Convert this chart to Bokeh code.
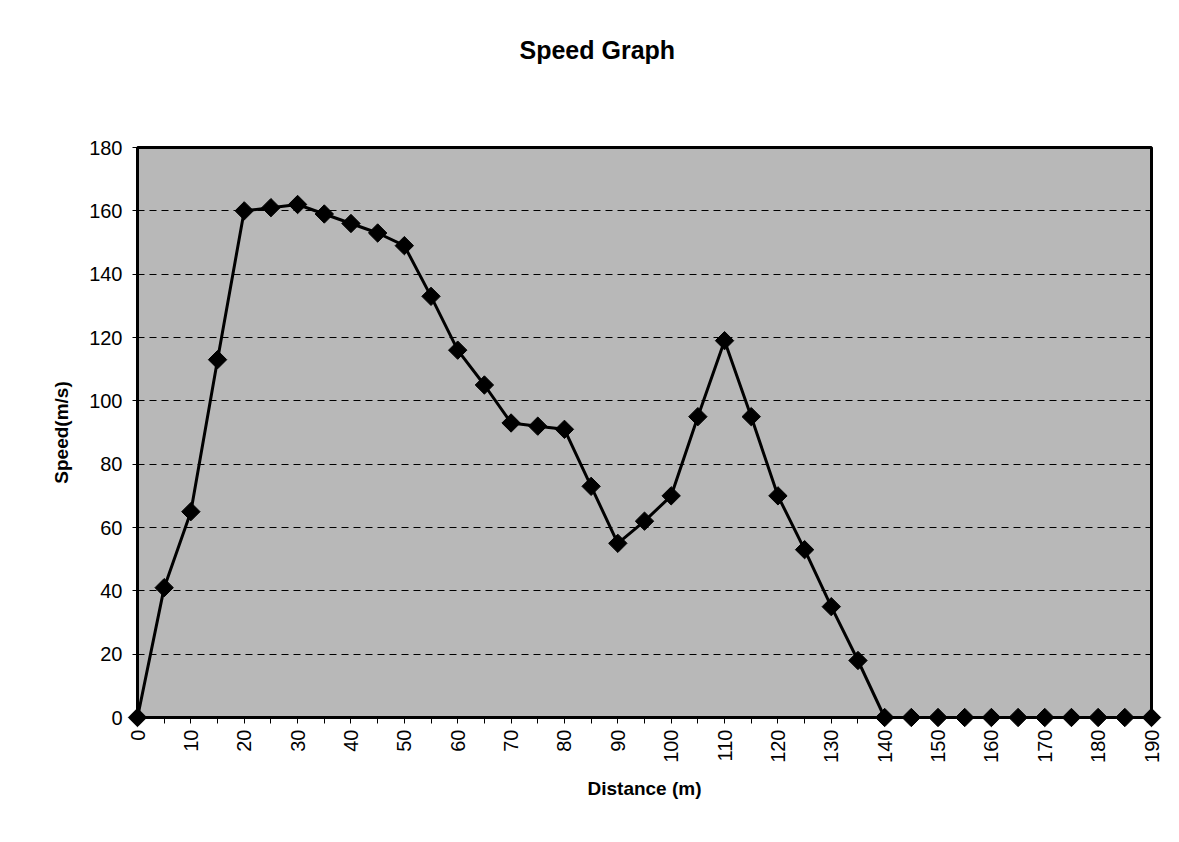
from bokeh.plotting import figure
from bokeh.models import FixedTicker, Range1d, Title
from bokeh.embed import file_html
from bokeh.resources import INLINE
import math

distance = [0, 5, 10, 15, 20, 25, 30, 35, 40, 45, 50, 55, 60, 65, 70, 75, 80, 85, 90, 95,
            100, 105, 110, 115, 120, 125, 130, 135, 140, 145, 150, 155, 160, 165, 170, 175,
            180, 185, 190]
speed = [0, 41, 65, 113, 160, 161, 162, 159, 156, 153, 149, 133, 116, 105, 93, 92, 91, 73,
         55, 62, 70, 95, 119, 95, 70, 53, 35, 18, 0, 0, 0, 0, 0, 0, 0, 0, 0, 0, 0]
x_ticks = [0, 10, 20, 30, 40, 50, 60, 70, 80, 90, 100, 110, 120, 130, 140, 150, 160, 170, 180, 190]
x_minor = [5, 15, 25, 35, 45, 55, 65, 75, 85, 95, 105, 115, 125, 135, 145, 155, 165, 175, 185]
y_ticks = [0, 20, 40, 60, 80, 100, 120, 140, 160, 180]
title_text = "Speed Graph"

FONT = "Liberation Sans"

p = figure(width=1163, height=826, output_backend="svg", toolbar_location=None, title=None,
           x_range=Range1d(0, 190), y_range=Range1d(0, 180),
           min_border_left=137, min_border_right=12, min_border_top=147, min_border_bottom=109)

# spacer (closest to the frame) then the real title further out
p.add_layout(Title(text=" ", text_font_size="1px", standoff=76), "above")
p.add_layout(Title(text=title_text, align="left", offset=382, standoff=10,
                   text_font=FONT, text_font_size="25px", text_font_style="bold",
                   text_color="black"), "above")

p.background_fill_color = "#b8b8b8"
p.border_fill_color = "white"
p.outline_line_color = "black"
p.outline_line_width = 3

# grid
p.xgrid.grid_line_color = None
p.ygrid.ticker = FixedTicker(ticks=y_ticks)
p.ygrid.grid_line_color = "black"
p.ygrid.grid_line_width = 1
p.ygrid.grid_line_dash = "7 5"

# x axis
p.xaxis.ticker = FixedTicker(ticks=x_ticks, minor_ticks=x_minor)
p.xaxis.axis_label = "Distance (m)"
p.xaxis.major_label_orientation = math.pi / 2
p.xaxis.major_tick_out = 6
p.xaxis.major_tick_in = 0
p.xaxis.minor_tick_out = 6
p.xaxis.minor_tick_in = 0
p.xaxis.major_label_standoff = 6
p.xaxis.axis_label_standoff = 12

# y axis
p.yaxis.ticker = FixedTicker(ticks=y_ticks)
p.yaxis.axis_label = "Speed(m/s)"
p.yaxis.major_tick_out = 5
p.yaxis.major_tick_in = 0
p.yaxis.major_label_standoff = 10
p.yaxis.axis_label_standoff = 14

for ax in (p.xaxis, p.yaxis):
    ax.axis_line_color = "black"
    ax.axis_line_width = 3
    ax.major_tick_line_color = "black"
    ax.major_tick_line_width = 1
    ax.minor_tick_line_color = "black"
    ax.major_label_text_font = FONT
    ax.major_label_text_font_size = "20px"
    ax.major_label_text_color = "black"
    ax.axis_label_text_font = FONT
    ax.axis_label_text_font_size = "19px"
    ax.axis_label_text_font_style = "bold"
    ax.axis_label_text_color = "black"
p.yaxis.minor_tick_line_color = None

p.line(distance, speed, line_color="black", line_width=3, level="overlay")
p.scatter(distance, speed, marker="square", size=13, angle=math.pi / 4,
          fill_color="black", line_color="black", level="overlay")

open("out.html", "w").write(file_html(p, INLINE))
